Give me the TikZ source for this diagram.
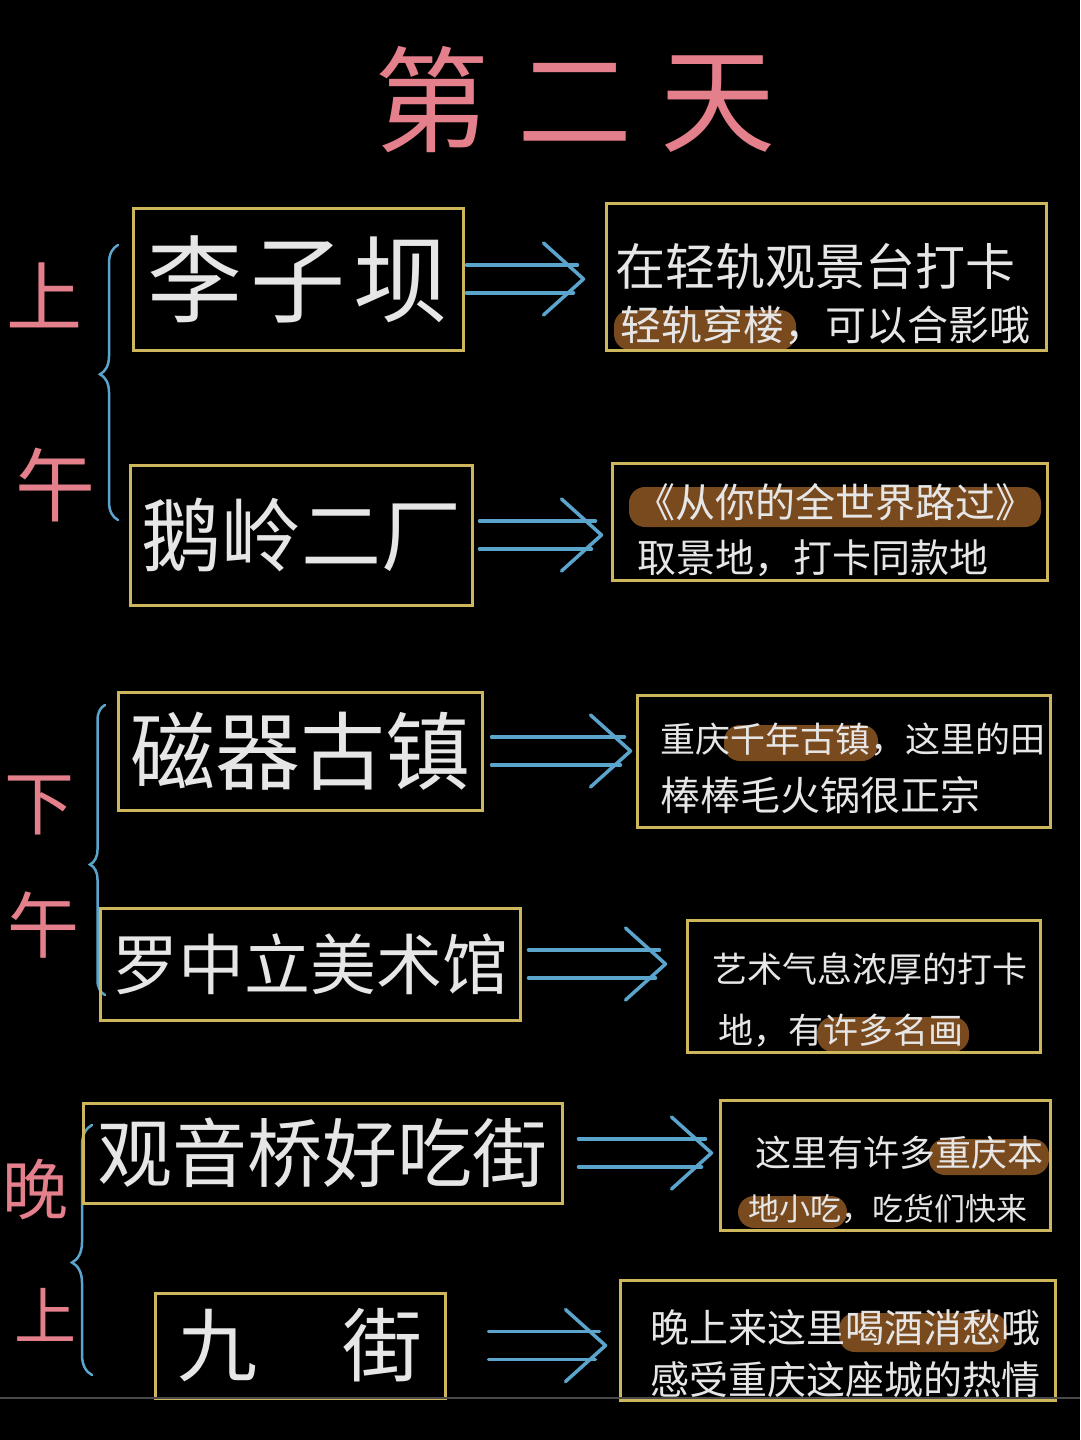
\documentclass[tikz,border=0pt]{standalone}
\usepackage{fontspec}
\setmainfont{Noto Sans CJK SC}
\usetikzlibrary{calc,decorations.pathreplacing}
\definecolor{pinkc}{HTML}{E47F8C}
\definecolor{bluec}{HTML}{5BA4CC}
\definecolor{boxc}{HTML}{CDB65C}
\definecolor{txtc}{HTML}{E6E6E6}
\definecolor{hlc}{HTML}{7A4A1F}
\definecolor{barc}{HTML}{4A4A4A}
\pgfdeclarelayer{bottom}
\pgfdeclarelayer{hl}
\pgfsetlayers{bottom,hl,main}
\newcommand\fsz[1]{\fontsize{#1}{#1}\selectfont}
\newcommand\dblarr[4]{%
  \coordinate (#1s) at ($(#1.east)+(#3,0)$);
  \coordinate (#1t) at ($(#2.west |- #1.east)+(-#4,0)$);
  \draw[arr] ($(#1s)+(0,-14)$) -- ($(#1t)+(-6,-14)$);
  \draw[arr] ($(#1s)+(0,14)$) -- ($(#1t)+(-10,14)$);
  \draw[arr] ($(#1t)+(-40,-36)$) -- (#1t) -- ($(#1t)+(-40,36)$);
}
\begin{document}
\begin{tikzpicture}[x=1pt,y=-1pt,
  lbox/.style={draw=boxc, line width=3pt, text=txtc, inner sep=0pt},
  rbox/.style={draw=boxc, line width=3pt, inner sep=0pt},
  rline/.style={text=txtc, inner sep=0pt, anchor=base west},
  plabel/.style={text=pinkc, inner sep=0pt},
  arr/.style={draw=bluec, line width=3.5pt, line cap=round, line join=round},
  brc/.style={draw=bluec, line width=2.5pt, line cap=round, decorate},
  hlbar/.style={fill=hlc, rounded corners=16pt}]
\useasboundingbox (0,0) rectangle (1080,1440);
\begin{pgfonlayer}{bottom}
  \fill[black] (0,0) rectangle (1080,1440);
\end{pgfonlayer}

% title
\node[plabel, font=\fsz{115}] (title) at (575,100) {第\hspace{28pt}二\hspace{28pt}天};

% time labels
\node[plabel, font=\fsz{76}] (am1) at (44,295) {上};
\node[plabel, font=\fsz{80}] (am2) at (56,485) {午};
\node[plabel, font=\fsz{70}] (pm1) at (40,805) {下};
\node[plabel, font=\fsz{72}] (pm2) at (43,925) {午};
\node[plabel, font=\fsz{66}] (ev1) at (35,1190) {晚};
\node[plabel, font=\fsz{62}] (ev2) at (45,1315) {上};

% braces
\coordinate (b1t) at (118,245); \coordinate (b1b) at (118,520);
\coordinate (b2t) at (105,705); \coordinate (b2b) at (105,995);
\coordinate (b3t) at (92,1125); \coordinate (b3b) at (92,1375);
\draw[brc, decoration={brace, amplitude=18pt, aspect=0.53}] (b1b) -- (b1t);
\draw[brc, decoration={brace, amplitude=15pt, aspect=0.45}] (b2b) -- (b2t);
\draw[brc, decoration={brace, amplitude=20pt, aspect=0.45}] (b3b) -- (b3t);

% left boxes
\node[lbox, minimum width=330pt, minimum height=142pt, font=\fsz{95}] (L1) at (298,279) {李\hspace{8pt}子\hspace{8pt}坝};
\node[lbox, minimum width=342pt, minimum height=140pt, font=\fsz{80}] (L2) at (301,535) {鹅岭二厂};
\node[lbox, minimum width=364pt, minimum height=118pt, font=\fsz{85}] (L3) at (300,751) {磁器古镇};
\node[lbox, minimum width=420pt, minimum height=112pt, font=\fsz{66}] (L4) at (310,964) {罗中立美术馆};
\node[lbox, minimum width=479pt, minimum height=100pt, font=\fsz{75}] (L5) at (322.5,1153) {观音桥好吃街};
\node[lbox, minimum width=290pt, minimum height=105pt, font=\fsz{80}] (L6) at (300,1345.5) {九\hspace{85pt}街};

% right boxes
\node[rbox, minimum width=440pt, minimum height=147pt] (R1) at (826,276.5) {};
\node[rbox, minimum width=435pt, minimum height=117pt] (R2) at (829.5,521.5) {};
\node[rbox, minimum width=413pt, minimum height=132pt] (R3) at (843.5,761) {};
\node[rbox, minimum width=353pt, minimum height=132pt] (R4) at (863.5,986) {};
\node[rbox, minimum width=330pt, minimum height=130pt] (R5) at (885,1165) {};
\node[rbox, minimum width=435pt, minimum height=120pt] (R6) at (837.5,1340) {};

% right box texts
\node[rline, font=\fsz{50}] (R1a) at (615,285) {在轻轨观景台打卡};
\node[rline, font=\fsz{41}] (R1b) at (620,340) {轻轨穿楼，可以合影哦};
\node[rline, font=\fsz{40}] (R2a) at (635,517) {《从你的全世界路过》};
\node[rline, font=\fsz{39}] (R2b) at (637,572) {取景地，打卡同款地};
\node[rline, font=\fsz{35}] (R3a) at (660,752) {重庆千年古镇，这里的田};
\node[rline, font=\fsz{40}] (R3b) at (660,810) {棒棒毛火锅很正宗};
\node[rline, font=\fsz{35}] (R4a) at (712,982) {艺术气息浓厚的打卡};
\node[rline, font=\fsz{35}] (R4b) at (718,1043) {地，有许多名画};
\node[rline, font=\fsz{36}] (R5a) at (755,1166) {这里有许多重庆本};
\node[rline, font=\fsz{31}] (R5b) at (748,1220) {地小吃，吃货们快来};
\node[rline, font=\fsz{39}] (R6a) at (650,1342) {晚上来这里喝酒消愁哦};
\node[rline, font=\fsz{39}] (R6b) at (650,1394) {感受重庆这座城的热情};

% highlights
\begin{pgfonlayer}{hl}
  \fill[hlbar] ($(R1b.base west)+(-6,10)$) rectangle ($(R1b.base west)+(176,-30)$);
  \fill[hlbar] ($(R2a.base west)+(-6,10)$) rectangle ($(R2a.base west)+(406,-30)$);
  \fill[hlbar] ($(R3a.base west)+(64,9)$) rectangle ($(R3a.base west)+(218,-27)$);
  \fill[hlbar] ($(R4b.base west)+(99,9)$) rectangle ($(R4b.base west)+(251,-26)$);
  \fill[hlbar] ($(R5a.base west)+(174,9)$) rectangle ($(R5a.base west)+(294,-27)$);
  \fill[hlbar] ($(R5b.base west)+(-10,8)$) rectangle ($(R5b.base west)+(99,-24)$);
  \fill[hlbar] ($(R6a.base west)+(189,10)$) rectangle ($(R6a.base west)+(357,-29)$);
\end{pgfonlayer}

% arrows
\dblarr{L1}{R1}{2}{21}
\dblarr{L2}{R2}{6}{9}
\dblarr{L3}{R3}{8}{5}
\dblarr{L4}{R4}{7}{20}
\dblarr{L5}{R5}{15}{7}
\dblarr{L6}{R6}{42}{13}

% video bar
\coordinate (barl) at (0,1398); \coordinate (barr) at (1080,1398);
\draw[barc, line width=2pt] (barl) -- (barr);
\end{tikzpicture}
\end{document}
